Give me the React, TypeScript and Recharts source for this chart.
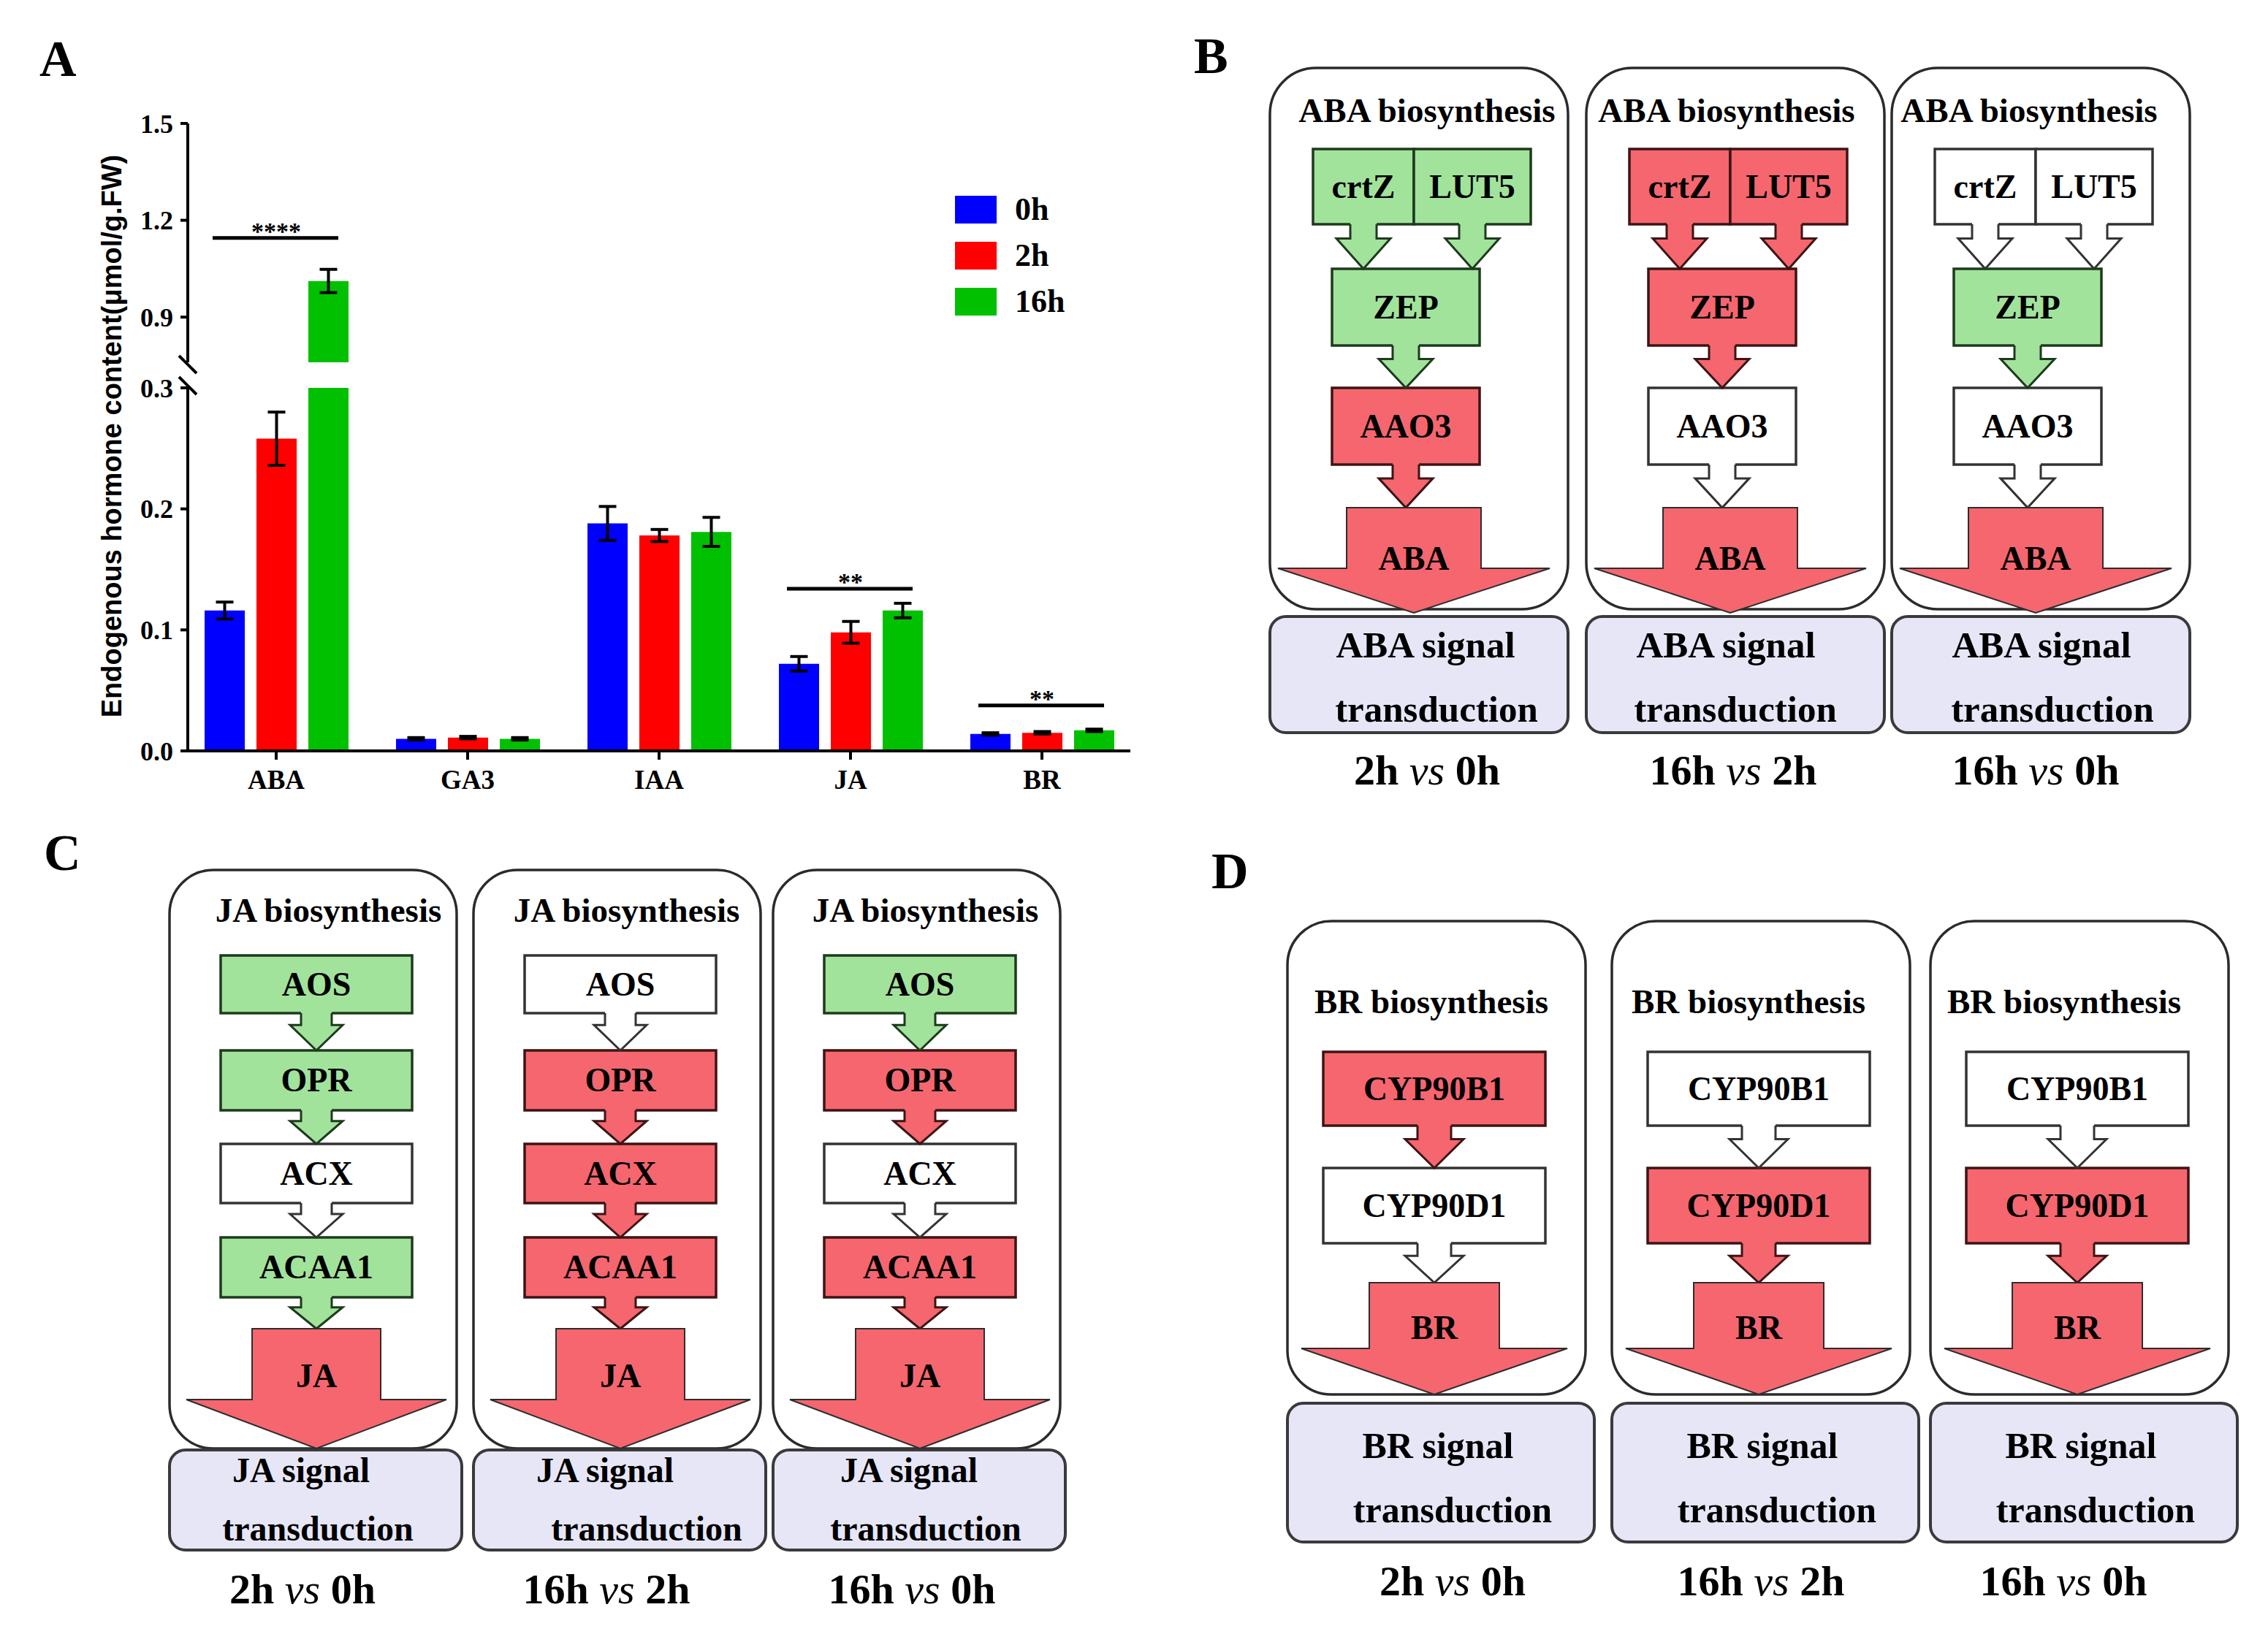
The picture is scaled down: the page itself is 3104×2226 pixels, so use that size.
import React from "react";
import { BarChart, Bar, XAxis, YAxis, ErrorBar, ReferenceLine, Legend } from "recharts";

const SERIF = "'Liberation Serif', 'Times New Roman', Times, serif";
const SANS = "'Liberation Sans', Arial, Helvetica, sans-serif";

// ---- panel A: endogenous hormone content (µmol/g FW) ----
const hormones = ["ABA", "GA3", "IAA", "JA", "BR"];
const timePoints = ["0h", "2h", "16h"];
const timeColors = ["#0000ff", "#ff0000", "#00c000"];
const mean0h = [0.116, 0.01, 0.188, 0.072, 0.014];
const mean2h = [0.258, 0.011, 0.178, 0.098, 0.015];
const mean16h = [1.012, 0.01, 0.181, 0.116, 0.017];
const sd0h = [0.007, 0.001, 0.014, 0.006, 0.001];
const sd2h = [0.022, 0.001, 0.005, 0.009, 0.001];
const sd16h = [0.036, 0.001, 0.012, 0.006, 0.001];
const upperTicks = [0.9, 1.2, 1.5];
const lowerTicks = [0, 0.1, 0.2, 0.3];
const upperDomain = [0.76, 1.5];
const lowerDomain = [0, 0.3];
const sigHormones = ["ABA", "JA", "BR"];
const sigHeights = [1.145, 0.134, 0.0376];
const sigLabels = ["****", "**", "**"];

// ---- panels B-D: pathway states (g = down, r = up, w = unchanged) ----
const comparisons = [
  ["2h", "0h"],
  ["16h", "2h"],
  ["16h", "0h"],
];
const abaGenes = ["crtZ", "LUT5", "ZEP", "AAO3"];
const abaStates = [
  ["g", "g", "g", "r"],
  ["r", "r", "r", "w"],
  ["w", "w", "g", "w"],
];
const jaGenes = ["AOS", "OPR", "ACX", "ACAA1"];
const jaStates = [
  ["g", "g", "w", "g"],
  ["w", "r", "r", "r"],
  ["g", "r", "w", "r"],
];
const brGenes = ["CYP90B1", "CYP90D1"];
const brStates = [
  ["r", "w"],
  ["w", "r"],
  ["w", "r"],
];

const FILL: Record<string, string> = { g: "#a2e39c", r: "#f5666f", w: "#ffffff" };
const EDGE: Record<string, string> = { g: "#1e3a1e", r: "#3d1414", w: "#333333" };

// ---- chart layout ----
const CHART_W = 1600;
const PLOT_LEFT = 257;
const PLOT_RIGHT = 1547;
const Y_AXIS_W = 140;
const UPPER_TOP = 169;
const UPPER_BOTTOM = 496;
const UPPER_H = 520;
const LOWER_Y = 480;
const LOWER_TOP = 531;
const LOWER_BOTTOM = 1028;
const LOWER_H = 720;
const X_AXIS_H = 90;
const X_PAD = { left: -10, right: -10 };

const means = [mean0h, mean2h, mean16h];
const sds = [sd0h, sd2h, sd16h];
const lowerMax = lowerDomain[1];

const upperRows = hormones.map((name, i) => {
  const row: any = { name };
  timePoints.forEach((t, k) => {
    const v = means[k][i];
    row[t] = v > lowerMax ? v : null;
    row[t + "_sd"] = v > lowerMax ? sds[k][i] : null;
  });
  return row;
});

const lowerRows = hormones.map((name, i) => {
  const row: any = { name };
  timePoints.forEach((t, k) => {
    const v = means[k][i];
    row[t] = Math.min(v, lowerMax);
    row[t + "_sd"] = v > lowerMax ? null : sds[k][i];
  });
  return row;
});

const tickStyle = { fill: "#000", fontSize: 36, fontWeight: 700, fontFamily: SERIF };
const axisStroke = { stroke: "#000", strokeWidth: 4 };

const sigShape = (label: string) => (props: any) => {
  const { x1, y1 } = props;
  if (x1 == null || y1 == null) return <g />;
  return (
    <g>
      <line x1={x1 - 87} x2={x1 + 85} y1={y1} y2={y1} stroke="#000" strokeWidth={5} />
      <text x={x1} y={y1 + 2} textAnchor="middle" fontFamily={SERIF} fontWeight="bold" fontSize={34}>
        {label}
      </text>
    </g>
  );
};

const LegendContent = (props: any) => {
  const items = [...(props.payload || [])].sort(
    (a: any, b: any) => timePoints.indexOf(a.value) - timePoints.indexOf(b.value)
  );
  return (
    <div>
      {items.map((p: any) => (
        <div key={p.value} style={{ display: "flex", alignItems: "center", height: 63 }}>
          <div style={{ width: 57, height: 38, background: p.color }} />
          <span style={{ marginLeft: 25, fontFamily: SERIF, fontWeight: 700, fontSize: 44, lineHeight: "38px" }}>
            {p.value}
          </span>
        </div>
      ))}
    </div>
  );
};

function sigLines(inUpper: boolean) {
  return sigHormones.map((h, i) =>
    sigHeights[i] > lowerMax === inUpper ? (
      <ReferenceLine
        key={h}
        segment={[
          { x: h, y: sigHeights[i] },
          { x: h, y: sigHeights[i] },
        ]}
        shape={sigShape(sigLabels[i])}
      />
    ) : null
  );
}

function bars() {
  return timePoints.map((t, k) => (
    <Bar key={t} dataKey={t} name={t} fill={timeColors[k]} isAnimationActive={false}>
      <ErrorBar dataKey={t + "_sd"} width={12} strokeWidth={4} stroke="#000" direction="y" isAnimationActive={false} />
    </Bar>
  ));
}

function HormoneChart() {
  const right = CHART_W - PLOT_RIGHT;
  return (
    <>
      <div style={{ position: "absolute", left: 0, top: 0 }}>
        <BarChart
          width={CHART_W}
          height={UPPER_H}
          data={upperRows}
          barSize={55}
          barGap={16}
          margin={{ top: UPPER_TOP, right, bottom: UPPER_H - UPPER_BOTTOM, left: PLOT_LEFT - Y_AXIS_W }}
        >
          <XAxis dataKey="name" hide padding={X_PAD} />
          <YAxis
            width={Y_AXIS_W}
            domain={upperDomain}
            ticks={upperTicks}
            allowDataOverflow
            tickFormatter={(v: number) => v.toFixed(1)}
            tick={tickStyle}
            axisLine={axisStroke}
            tickLine={axisStroke}
            tickSize={10}
            tickMargin={10}
          />
          <Legend
            layout="vertical"
            align="center"
            verticalAlign="middle"
            content={LegendContent}
            wrapperStyle={{ left: 1307, top: 255, width: 200, height: 190 }}
          />
          {bars()}
          {sigLines(true)}
        </BarChart>
      </div>
      <div style={{ position: "absolute", left: 0, top: LOWER_Y }}>
        <BarChart
          width={CHART_W}
          height={LOWER_H}
          data={lowerRows}
          barSize={55}
          barGap={16}
          margin={{
            top: LOWER_TOP - LOWER_Y,
            right,
            bottom: LOWER_Y + LOWER_H - LOWER_BOTTOM - X_AXIS_H,
            left: PLOT_LEFT - Y_AXIS_W,
          }}
        >
          <XAxis
            dataKey="name"
            height={X_AXIS_H}
            interval={0}
            padding={X_PAD}
            tick={{ ...tickStyle, fontSize: 37 }}
            axisLine={axisStroke}
            tickLine={axisStroke}
            tickSize={12}
            tickMargin={14}
          />
          <YAxis
            width={Y_AXIS_W}
            domain={lowerDomain}
            ticks={lowerTicks}
            allowDataOverflow
            tickFormatter={(v: number) => v.toFixed(1)}
            tick={tickStyle}
            axisLine={axisStroke}
            tickLine={axisStroke}
            tickSize={10}
            tickMargin={10}
          />
          {bars()}
          {sigLines(false)}
        </BarChart>
      </div>
    </>
  );
}

// ---- pathway diagrams ----
type Row = { y0: number; y1: number; xs: number[][] };
type PanelSpec = {
  hormone: string;
  genes: string[];
  states: string[][];
  lefts: number[];
  boxW: number;
  cx: number;
  top: number;
  bottom: number;
  r: number;
  titleDx: number[];
  titleY: number;
  rows: Row[];
  small: { sh: number; hh: number };
  big: { top: number; head: number; tip: number; shaft: number; wing: number; labelY: number };
  sig: { top: number; bottom: number; w: number; dx1: number[]; dx2: number[]; y1: number; y2: number; font: number };
  cmp: { dx: number[]; y: number };
};

const panelB: PanelSpec = {
  hormone: "ABA",
  genes: abaGenes,
  states: abaStates,
  lefts: [1738, 2171, 2589],
  boxW: 408,
  cx: 197,
  top: 93,
  bottom: 834,
  r: 63,
  titleDx: [11, -12, -16],
  titleY: 152,
  rows: [
    { y0: 204, y1: 307, xs: [[-138, 0], [0, 160]] },
    { y0: 368, y1: 473, xs: [[-112, 90]] },
    { y0: 531, y1: 636, xs: [[-112, 90]] },
  ],
  small: { sh: 18, hh: 37 },
  big: { top: 695, head: 778, tip: 839, shaft: 92, wing: 186, labelY: 765 },
  sig: { top: 844, bottom: 1003, w: 408, dx1: [9, -13, 1], dx2: [24, 0, 16], y1: 884, y2: 973, font: 51 },
  cmp: { dx: [11, -3, -7], y: 1055 },
};

const panelC: PanelSpec = {
  hormone: "JA",
  genes: jaGenes,
  states: jaStates,
  lefts: [232, 648, 1058],
  boxW: 393,
  cx: 201,
  top: 1191,
  bottom: 1983,
  r: 60,
  titleDx: [21, 13, 12],
  titleY: 1247,
  rows: [
    { y0: 1308, y1: 1387, xs: [[-131, 131]] },
    { y0: 1438, y1: 1520, xs: [[-131, 131]] },
    { y0: 1566, y1: 1647, xs: [[-131, 131]] },
    { y0: 1694, y1: 1776, xs: [[-131, 131]] },
  ],
  small: { sh: 21, hh: 36 },
  big: { top: 1819, head: 1916, tip: 1983, shaft: 88, wing: 178, labelY: 1884 },
  sig: { top: 1985, bottom: 2122, w: 400, dx1: [-20, -20, -14], dx2: [3, 37, 9], y1: 2013, y2: 2094, font: 48 },
  cmp: { dx: [-18, -18, -10], y: 2176 },
};

const panelD: PanelSpec = {
  hormone: "BR",
  genes: brGenes,
  states: brStates,
  lefts: [1762, 2206, 2642],
  boxW: 408,
  cx: 201,
  top: 1261,
  bottom: 1909,
  r: 60,
  titleDx: [-7, -17, -21],
  titleY: 1372,
  rows: [
    { y0: 1440, y1: 1541, xs: [[-152, 152]] },
    { y0: 1599, y1: 1702, xs: [[-152, 152]] },
  ],
  small: { sh: 23, hh: 40 },
  big: { top: 1756, head: 1846, tip: 1909, shaft: 89, wing: 182, labelY: 1818 },
  sig: { top: 1921, bottom: 2111, w: 420, dx1: [-4, -4, -4], dx2: [16, 16, 16], y1: 1980, y2: 2069, font: 50 },
  cmp: { dx: [16, -6, -28], y: 2165 },
};

const pts = (a: number[][]) => a.map((p) => p.join(",")).join(" ");

function SmallArrow({ cx, y0, y1, state, sh, hh }: any) {
  const yh = y0 + (y1 - y0) * 0.32;
  return (
    <g>
      <polygon
        points={pts([[cx - sh, y0 - 2], [cx + sh, y0 - 2], [cx + sh, yh], [cx + hh, yh], [cx, y1], [cx - hh, yh], [cx - sh, yh]])}
        fill={FILL[state]}
      />
      <polyline
        points={pts([[cx - sh, y0], [cx - sh, yh], [cx - hh, yh], [cx, y1], [cx + hh, yh], [cx + sh, yh], [cx + sh, y0]])}
        fill="none"
        stroke={EDGE[state]}
        strokeWidth={3}
        strokeLinejoin="miter"
      />
    </g>
  );
}

function Column({ spec, col }: { spec: PanelSpec; col: number }) {
  const left = spec.lefts[col];
  const cx = left + spec.cx;
  const states = spec.states[col];
  const [a, b] = comparisons[col];
  const { big, sig } = spec;
  let g = 0;
  const boxes: any[] = [];
  const arrows: any[] = [];
  spec.rows.forEach((row, ri) => {
    const next = spec.rows[ri + 1];
    row.xs.forEach(([x0, x1]) => {
      const st = states[g];
      const label = spec.genes[g];
      g += 1;
      boxes.push(
        <g key={label}>
          <rect x={cx + x0} y={row.y0} width={x1 - x0} height={row.y1 - row.y0} fill={FILL[st]} stroke={EDGE[st]} strokeWidth={3.5} />
          <text x={cx + (x0 + x1) / 2} y={(row.y0 + row.y1) / 2 + 15} textAnchor="middle" fontFamily={SERIF} fontWeight="bold" fontSize={46}>
            {label}
          </text>
        </g>
      );
      arrows.push(
        <SmallArrow
          key={"a" + label}
          cx={cx + (x0 + x1) / 2}
          y0={row.y1}
          y1={next ? next.y0 : big.top}
          state={st}
          sh={spec.small.sh}
          hh={spec.small.hh}
        />
      );
    });
  });
  const sigCx = left + sig.w / 2;
  return (
    <g>
      <rect x={left} y={spec.top} width={spec.boxW} height={spec.bottom - spec.top} rx={spec.r} ry={spec.r} fill="#fff" stroke="#2b2b2b" strokeWidth={3.5} />
      <rect x={left} y={sig.top} width={sig.w} height={sig.bottom - sig.top} rx={22} ry={22} fill="#e6e6f7" stroke="#3a3a3a" strokeWidth={4} />
      <text x={left + spec.boxW / 2 + spec.titleDx[col]} y={spec.titleY + 15} textAnchor="middle" fontFamily={SERIF} fontWeight="bold" fontSize={47}>
        {spec.hormone} biosynthesis
      </text>
      {boxes}
      {arrows}
      <polygon
        points={pts([
          [cx - big.shaft, big.top],
          [cx + big.shaft, big.top],
          [cx + big.shaft, big.head],
          [cx + big.wing, big.head],
          [cx, big.tip],
          [cx - big.wing, big.head],
          [cx - big.shaft, big.head],
        ])}
        fill={FILL.r}
        stroke="#2d2d2d"
        strokeWidth={2}
      />
      <text x={cx} y={big.labelY + 15} textAnchor="middle" fontFamily={SERIF} fontWeight="bold" fontSize={46}>
        {spec.hormone}
      </text>
      <text x={sigCx + sig.dx1[col]} y={sig.y1 + 16} textAnchor="middle" fontFamily={SERIF} fontWeight="bold" fontSize={sig.font}>
        {spec.hormone} signal
      </text>
      <text x={sigCx + sig.dx2[col]} y={sig.y2 + 15} textAnchor="middle" fontFamily={SERIF} fontWeight="bold" fontSize={sig.font}>
        transduction
      </text>
      <text x={sigCx + spec.cmp.dx[col]} y={spec.cmp.y + 19} textAnchor="middle" fontFamily={SERIF} fontSize={58}>
        <tspan fontWeight="bold">{a} </tspan>
        <tspan fontStyle="italic">vs</tspan>
        <tspan fontWeight="bold"> {b}</tspan>
      </text>
    </g>
  );
}

function Panel({ spec }: { spec: PanelSpec }) {
  return (
    <g>
      {spec.lefts.map((_, i) => (
        <Column key={i} spec={spec} col={i} />
      ))}
    </g>
  );
}

export default function App() {
  const bx = PLOT_LEFT;
  return (
    <div style={{ position: "absolute", left: 0, top: 0, width: 3104, height: 2226, background: "#fff", overflow: "hidden" }}>
      <HormoneChart />
      <svg width={3104} height={2226} style={{ position: "absolute", left: 0, top: 0, pointerEvents: "none" }}>
        {/* axis break marks */}
        <line x1={bx - 12} y1={UPPER_BOTTOM - 9} x2={bx + 12} y2={UPPER_BOTTOM + 15} stroke="#000" strokeWidth={4} />
        <line x1={bx - 12} y1={LOWER_TOP - 15} x2={bx + 12} y2={LOWER_TOP + 9} stroke="#000" strokeWidth={4} />
        <text
          x={166}
          y={597}
          transform="rotate(-90 166 597)"
          textAnchor="middle"
          fontFamily={SANS}
          fontWeight="bold"
          fontSize={38}
        >
          Endogenous hormone content(μmol/g.FW)
        </text>
        <g fontFamily={SERIF} fontWeight="bold" fontSize={70}>
          <text x={54} y={104}>A</text>
          <text x={1634} y={100}>B</text>
          <text x={60} y={1191}>C</text>
          <text x={1658} y={1216}>D</text>
        </g>
        <Panel spec={panelB} />
        <Panel spec={panelC} />
        <Panel spec={panelD} />
      </svg>
    </div>
  );
}
